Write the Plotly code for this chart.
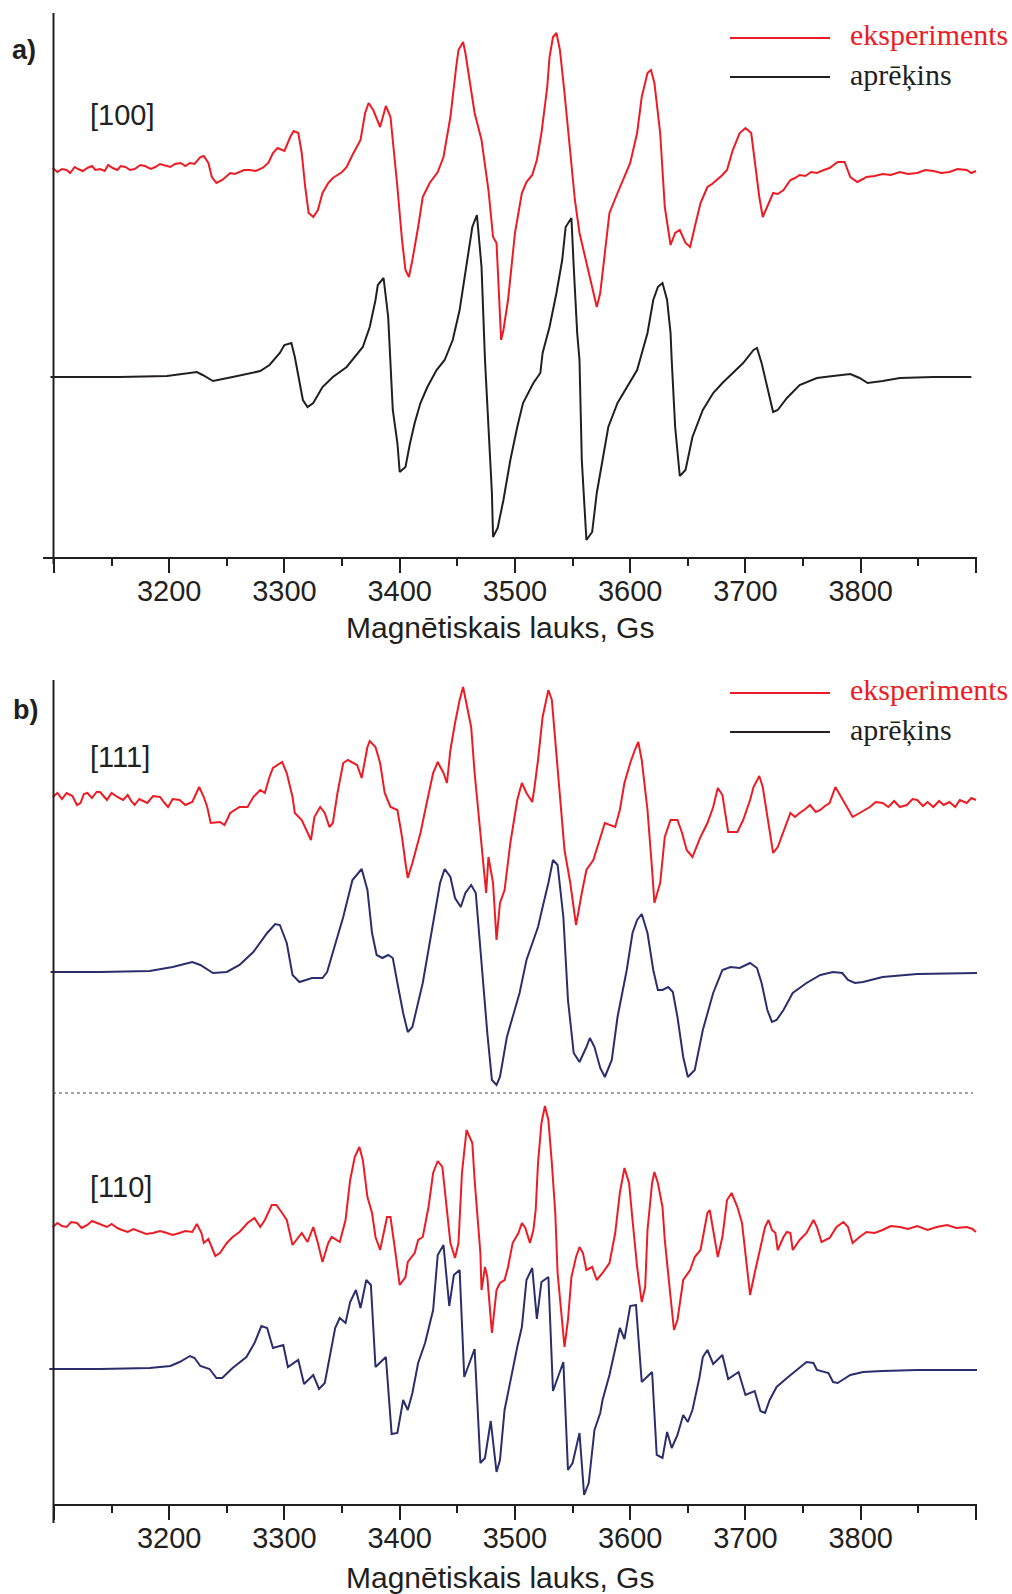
import plotly.graph_objects as go

# ---------------- data (field in Gs, intensity in arbitrary units) ----------------
a_exp = [(3099,389),(3103,385),(3107,388),(3111,387),(3114,384),(3118,390),(3121,388),(3125,386),
         (3129,389),(3133,391),(3136,387),(3140,388),(3144,386),(3147,392),(3151,389),(3155,387),
         (3158,391),(3162,390),(3166,387),(3170,388),(3175,392),(3179,391),(3184,388),(3188,390),
         (3192,393),(3196,392),(3201,390),(3205,393),(3210,394),(3214,391),(3218,394),
         (3222,393),(3227,400),(3230,401),(3234,394),(3237,380),(3241,374),(3246,377),(3250,381),(3253,384),
         (3257,383),(3261,385),(3265,387),(3270,387),(3275,386),(3281,389),(3286,394),(3290,404),(3294,409),(3300,406),(3305,420),
         (3308,426),(3312,424),(3315,404),(3318,370),(3321,344),(3325,340),(3329,347),(3333,364),
         (3338,374),(3342,379),(3346,382),(3350,385),(3354,390),(3359,402),(3366,417),(3370,444),(3373,454),(3377,447),
         (3383,430),(3388,451),(3392,440),(3394,417),(3398,370),(3402,317),(3405,287),(3408,280),
         (3411,297),(3416,330),(3420,360),(3426,374),(3433,385),(3438,400),(3444,440),(3449,490),
         (3451,507),(3455,515),(3457,504),(3461,474),(3465,444),(3471,417),(3477,367),(3481,320),
         (3484,314),(3488,217),(3490,227),(3494,257),(3500,324),(3506,364),(3510,375),(3515,382),
         (3519,397),(3523,424),(3528,470),(3530,500),(3533,520),(3536,524),(3539,507),(3543,464),
         (3548,407),(3552,357),(3556,324),(3562,294),(3568,264),(3571,250),(3574,264),(3578,307),
         (3582,344),(3589,364),(3594,377),(3600,394),(3606,424),(3610,460),(3615,484),(3618,487),
         (3621,474),(3626,424),(3630,350),(3635,312),(3639,324),(3643,327),(3648,314),(3652,310),
         (3656,330),(3661,354),(3667,370),(3671,373),(3675,377),(3680,382),(3684,387),(3689,407),(3695,424),(3700,429),
         (3705,424),(3708,397),(3712,360),(3715,340),(3720,354),(3724,364),(3728,363),(3733,367),(3739,377),
         (3743,379),(3747,382),(3752,381),(3757,385),(3762,384),(3768,387),(3773,389),(3780,395),(3786,395),(3791,380),(3797,375),(3802,378),(3805,380),
         (3812,381),(3819,383),(3826,382),(3834,385),(3841,383),(3849,384),(3856,387),(3863,386),(3870,384),(3877,385),
         (3884,388),(3892,387),(3896,384),(3900,386)]

a_calc = [(3097,180),(3157,180),(3198,181),(3215,184),(3224,185),(3229,182),(3238,176),(3255,180),
          (3279,186),(3287,192),(3296,204),(3300,212),(3306,214),(3309,200),(3313,174),(3316,157),
          (3320,150),(3325,154),(3333,170),(3342,180),(3354,190),(3359,197),(3368,210),(3374,230),
          (3379,257),(3381,272),(3386,279),(3390,240),(3392,197),(3394,147),(3398,114),(3400,85),
          (3405,90),(3409,114),(3413,134),(3418,154),(3424,170),(3432,187),(3439,197),(3446,217),
          (3452,247),(3458,290),(3463,330),(3467,342),(3471,290),(3474,197),(3477,130),(3480,64),
          (3481,20),(3485,29),(3490,57),(3496,97),(3502,130),(3507,154),(3516,174),(3522,184),
          (3524,204),(3530,230),(3536,264),(3541,297),(3544,330),(3549,339),(3551,290),(3554,224),
          (3556,197),(3558,97),(3562,17),(3567,25),(3571,64),(3576,97),(3581,130),(3589,154),
          (3597,170),(3606,187),(3615,224),(3620,257),(3624,270),(3628,274),(3632,257),(3635,224),
          (3636,197),(3639,130),(3643,81),(3648,87),(3654,120),(3663,147),(3672,164),(3680,174),
          (3689,184),(3698,194),(3707,207),(3710,209),(3714,194),(3720,164),(3724,145),(3728,147),
          (3736,159),(3747,172),(3762,179),(3776,181),(3791,183),(3799,179),(3806,174),(3819,176),
          (3834,179),(3863,180),(3896,180)]

b111_exp = [(3099,708),(3103,712),(3107,706),(3111,712),(3116,709),(3120,700),(3123,702),(3126,711),(3129,712),
            (3133,707),(3137,713),(3140,713),(3143,709),(3146,705),(3150,712),(3155,708),
            (3160,705),(3164,710),(3167,704),(3170,700),(3174,706),(3178,704),(3181,702),(3186,709),(3192,708),(3196,702),(3199,698),
            (3203,706),(3209,705),(3214,700),(3220,703),(3226,718),
            (3230,708),(3233,698),(3236,682),(3244,683),(3248,680),(3253,692),(3261,698),(3268,698),
            (3273,708),(3279,715),(3283,712),(3287,728),(3290,737),(3298,743),(3302,732),(3307,708),
            (3309,692),(3315,685),(3320,673),(3323,665),(3326,688),(3331,698),(3335,692),(3339,678),
            (3342,682),(3346,712),(3351,742),(3355,745),(3363,740),(3367,727),(3372,758),(3374,764),
            (3379,758),(3383,742),(3387,712),(3392,698),(3398,695),(3402,668),(3405,642),(3407,627),
            (3411,642),(3418,672),(3424,705),(3429,732),(3433,743),(3438,732),(3441,722),(3444,755),
            (3448,782),(3452,805),(3455,818),(3458,802),(3462,778),(3465,732),(3470,668),(3475,612),
            (3477,648),(3481,622),(3484,565),(3487,602),(3491,615),(3496,662),(3502,705),(3506,722),
            (3510,712),(3515,703),(3517,718),(3520,745),(3524,788),(3529,815),(3532,805),(3535,762),
            (3539,705),(3543,655),(3548,622),(3553,580),(3558,612),(3562,635),(3568,645),(3574,668),
            (3578,682),(3587,678),(3591,695),(3595,722),(3600,742),(3604,755),(3607,763),(3610,745),
            (3615,695),(3619,635),(3621,602),(3626,622),(3630,668),(3635,685),(3641,685),(3645,672),
            (3649,655),(3654,648),(3661,668),(3667,682),(3672,698),(3676,717),(3680,710),(3685,673),
            (3693,673),(3698,685),(3704,705),(3707,718),(3712,729),(3715,718),(3720,682),(3724,652),
            (3728,658),(3733,673),(3739,692),(3743,688),(3747,692),(3752,696),(3756,700),(3761,693),(3765,695),(3769,699),(3773,702),(3778,718),
            (3782,710),(3788,698),(3793,688),(3799,692),(3803,695),(3808,698),(3813,703),(3819,702),(3824,698),(3829,704),(3834,698),
            (3840,700),(3845,706),(3849,705),(3854,699),(3858,703),(3863,698),(3868,704),(3872,700),(3877,703),(3882,698),
            (3886,705),(3892,702),(3896,707),(3900,705)]

b111_calc = [(3097,533),(3140,533),(3183,534),(3203,538),(3220,543),(3227,540),(3238,532),(3250,533),
             (3261,540),(3273,553),(3285,572),(3292,581),(3296,580),(3302,562),(3307,530),(3313,523),
             (3324,527),(3333,527),(3337,533),(3342,552),(3351,588),(3359,625),(3367,636),(3372,615),
             (3376,572),(3380,550),(3385,547),(3390,550),(3394,547),(3398,522),(3403,492),(3407,473),
             (3411,478),(3420,522),(3429,582),(3435,622),(3439,636),(3444,628),(3448,607),(3453,598),
             (3457,612),(3462,620),(3466,612),(3471,538),(3476,472),(3480,425),(3484,420),(3487,428),
             (3493,468),(3498,488),(3504,512),(3510,545),(3516,565),(3520,578),(3524,598),(3529,622),
             (3533,645),(3537,640),(3542,588),(3546,505),(3551,452),(3556,443),(3562,458),(3565,467),
             (3569,458),(3574,437),(3578,428),(3584,445),(3589,488),(3597,535),(3602,572),(3606,585),
             (3610,591),(3615,572),(3620,535),(3624,515),(3628,515),(3633,518),(3637,513),(3641,488),
             (3646,448),(3650,428),(3656,435),(3663,475),(3672,512),(3680,535),(3687,538),(3695,537),
             (3704,542),(3710,537),(3714,522),(3719,495),(3723,483),(3727,485),(3733,495),(3741,512),
             (3753,522),(3765,530),(3776,533),(3784,532),(3789,525),(3795,522),(3802,523),(3819,528),
             (3849,531),(3903,532)]

b110_exp = [(3099,278),(3103,282),(3107,279),(3111,278),(3115,283),(3120,282),(3124,277),(3129,280),(3133,284),(3137,282),
            (3141,280),(3146,278),(3150,281),(3155,277),(3159,275),
            (3164,273),(3169,276),(3175,273),(3180,271),(3186,272),(3192,274),(3198,272),(3203,270),(3209,272),(3214,274),(3220,273),(3224,281),(3228,272),
            (3230,262),(3234,266),(3237,258),(3240,249),(3244,252),(3250,262),(3255,268),(3261,273),
            (3268,282),(3274,287),(3279,278),(3283,285),(3289,300),(3293,300),(3298,292),(3302,285),
            (3307,260),(3315,272),(3320,263),(3325,278),(3329,262),(3333,243),(3338,262),(3341,268),
            (3348,263),(3353,285),(3357,325),(3361,348),(3365,358),(3368,345),(3372,308),(3376,292),
            (3379,268),(3383,255),(3389,288),(3392,288),(3396,255),(3400,220),(3405,228),(3407,243),
            (3413,252),(3416,265),(3420,268),(3425,298),(3429,332),(3433,344),(3437,338),(3441,298),
            (3444,262),(3448,247),(3451,262),(3454,332),(3457,368),(3458,375),(3463,362),(3465,325),
            (3470,252),(3471,215),(3474,238),(3476,228),(3480,172),(3484,215),(3487,222),(3491,225),
            (3494,238),(3498,262),(3503,272),(3506,282),(3509,277),(3513,262),(3516,275),(3518,295),
            (3520,342),(3523,382),(3526,399),(3529,385),(3532,342),(3535,292),(3537,232),(3541,185),
            (3543,158),(3546,185),(3549,228),(3553,248),(3556,258),(3559,252),(3562,235),(3567,238),
            (3571,225),(3576,232),(3582,242),(3587,272),(3591,312),(3595,337),(3599,322),(3602,285),
            (3606,238),(3610,203),(3613,218),(3615,275),(3619,322),(3621,333),(3624,322),(3628,298),
            (3630,265),(3635,208),(3638,175),(3641,185),(3646,225),(3652,235),(3656,248),(3661,255),
            (3663,268),(3667,292),(3669,295),(3672,275),(3676,248),(3680,268),(3684,305),(3688,312),
            (3693,298),(3697,282),(3701,238),(3704,210),(3708,232),(3713,258),(3717,278),(3720,285),
            (3723,275),(3726,272),(3728,255),(3733,268),(3736,273),(3739,272),(3741,255),(3747,265),
            (3753,272),(3759,285),(3762,278),(3766,263),(3773,267),(3779,278),(3785,283),(3789,278),
            (3793,262),(3799,268),(3805,273),(3812,272),(3819,275),(3826,279),(3834,278),(3841,276),(3849,279),(3858,275),
            (3866,278),(3875,280),(3883,277),(3892,278),(3897,276),(3900,273)]

b110_calc = [(3096,136),(3140,136),(3183,137),(3201,139),(3209,143),(3218,149),(3222,147),(3227,139),
             (3235,136),(3241,127),(3246,127),(3255,137),(3267,148),(3274,162),(3280,179),(3285,177),
             (3290,157),(3299,160),(3303,138),(3312,145),(3317,121),(3325,130),(3330,116),(3335,122),
             (3344,177),(3348,187),(3353,182),(3357,203),(3362,215),(3366,197),(3371,225),(3375,220),
             (3379,138),(3388,148),(3393,71),(3398,72),(3403,105),(3407,95),(3411,112),(3416,142),
             (3422,162),(3429,195),(3433,250),(3438,260),(3443,199),(3447,230),(3452,235),(3456,128),
             (3465,156),(3470,42),(3474,47),(3479,84),(3484,33),(3487,45),(3491,95),(3496,125),
             (3502,158),(3506,178),(3510,225),(3515,237),(3519,186),(3523,223),(3529,228),(3533,114),
             (3542,143),(3546,35),(3550,42),(3556,72),(3560,10),(3564,22),(3569,75),(3574,92),
             (3576,105),(3582,130),(3587,158),(3591,177),(3595,166),(3600,199),(3605,200),(3610,123),
             (3619,133),(3623,50),(3628,47),(3632,73),(3636,57),(3641,70),(3646,90),(3650,83),
             (3654,95),(3660,127),(3663,148),(3667,155),(3672,141),(3680,150),(3685,126),(3694,133),
             (3700,110),(3708,114),(3713,94),(3717,92),(3721,105),(3727,118),(3736,127),(3745,135),
             (3753,143),(3759,142),(3762,135),(3772,132),(3776,123),(3780,122),(3791,130),(3802,133),
             (3819,134),(3849,135),(3903,135)]

major_ticks = [3100, 3200, 3300, 3400, 3500, 3600, 3700, 3800, 3900]
major_labels = ["", "3200", "3300", "3400", "3500", "3600", "3700", "3800", ""]
minor_ticks = [3150, 3250, 3350, 3450, 3550, 3650, 3750, 3850]

x_title = "Magnētiskais lauks, Gs"
legend_names = ["eksperiments", "aprēķins"]
orientations = ["[100]", "[111]", "[110]"]

# ---------------- styling ----------------
RED = "#ED1C24"
BLACK = "#231F20"
NAVY = "#2B2E6C"
W, H = 1012, 1594

def px_x(p):
    return p / W

def px_y(p):
    return (H - p) / H

fig = go.Figure()

def add_curve(pairs, color, xa, ya):
    fig.add_trace(go.Scatter(
        x=[p[0] for p in pairs], y=[p[1] for p in pairs], mode="lines",
        line=dict(color=color, width=2), xaxis=xa, yaxis=ya,
        showlegend=False, hoverinfo="skip"))

add_curve(a_exp, RED, "x", "y")
add_curve(a_calc, BLACK, "x", "y")
add_curve(b111_exp, RED, "x2", "y2")
add_curve(b111_calc, NAVY, "x2", "y2")
add_curve(b110_exp, RED, "x2", "y2")
add_curve(b110_calc, NAVY, "x2", "y2")

def xaxis_cfg(anchor, showline):
    return dict(
        domain=[px_x(43), px_x(977)], range=[3090.5, 3900.9], anchor=anchor,
        tickmode="array", tickvals=major_ticks, ticktext=major_labels,
        ticks="outside", ticklen=14, tickwidth=2, tickcolor=BLACK,
        ticklabelstandoff=-7,
        showline=showline, linecolor=BLACK, linewidth=2,
        showgrid=False, zeroline=False,
        tickfont=dict(family="Liberation Sans", size=29, color=BLACK),
        minor=dict(tickmode="array", tickvals=minor_ticks, ticks="outside",
                   ticklen=7, tickwidth=2, tickcolor=BLACK, showgrid=False),
    )

def yaxis_cfg(anchor, dom, rng):
    return dict(domain=dom, range=rng, anchor=anchor, showline=False,
                showticklabels=False, ticks="", showgrid=False, zeroline=False)

shapes = []
# y axis lines
shapes.append(dict(type="line", xref="paper", yref="paper", x0=px_x(53.5), x1=px_x(53.5),
                   y0=px_y(564), y1=px_y(13), line=dict(color=BLACK, width=2)))
shapes.append(dict(type="line", xref="paper", yref="paper", x0=px_x(53.5), x1=px_x(53.5),
                   y0=px_y(1523), y1=px_y(680), line=dict(color=BLACK, width=2)))
# panel b x axis line
shapes.append(dict(type="line", xref="paper", yref="paper", x0=px_x(53), x1=px_x(977),
                   y0=px_y(1505), y1=px_y(1505), line=dict(color=BLACK, width=2)))
# dotted separator
shapes.append(dict(type="line", xref="paper", yref="paper", x0=px_x(53), x1=px_x(973),
                   y0=px_y(1093), y1=px_y(1093), line=dict(color="#444444", width=1, dash="dot")))
# legend lines
for yy, col in [(38, RED), (77, BLACK), (693, RED), (732, BLACK)]:
    shapes.append(dict(type="line", xref="paper", yref="paper", x0=px_x(730), x1=px_x(830),
                       y0=px_y(yy), y1=px_y(yy), line=dict(color=col, width=2)))

ann = []
def text(t, x, y, size, color=BLACK, family="Liberation Sans", xanchor="center"):
    ann.append(dict(text=t, x=px_x(x), y=px_y(y), xref="paper", yref="paper",
                    showarrow=False, xanchor=xanchor, yanchor="middle",
                    font=dict(family=family, size=size, color=color)))

text("<b>a)</b>", 24, 50, 27)
text("<b>b)</b>", 25, 710, 27)
text(orientations[0], 122, 115, 29)
text(orientations[1], 120, 757, 29)
text(orientations[2], 121, 1187, 29)
text(x_title, 500, 628, 30)
text(x_title, 500, 1577, 30)
for yy, t, col in [(34, legend_names[0], RED), (75, legend_names[1], BLACK),
                   (689, legend_names[0], RED), (730, legend_names[1], BLACK)]:
    text(t, 848, yy, 30, color=col, family="Liberation Serif", xanchor="left")

fig.update_layout(
    width=W, height=H, margin=dict(l=0, r=0, t=0, b=0),
    paper_bgcolor="white", plot_bgcolor="white", showlegend=False,
    xaxis=xaxis_cfg("y", True),
    yaxis=yaxis_cfg("x", [px_y(557), px_y(13)], [0, 544]),
    xaxis2=xaxis_cfg("y2", False),
    yaxis2=yaxis_cfg("x2", [px_y(1505), px_y(680)], [0, 825]),
    shapes=shapes, annotations=ann,
)

fig.write_html("out.html")
